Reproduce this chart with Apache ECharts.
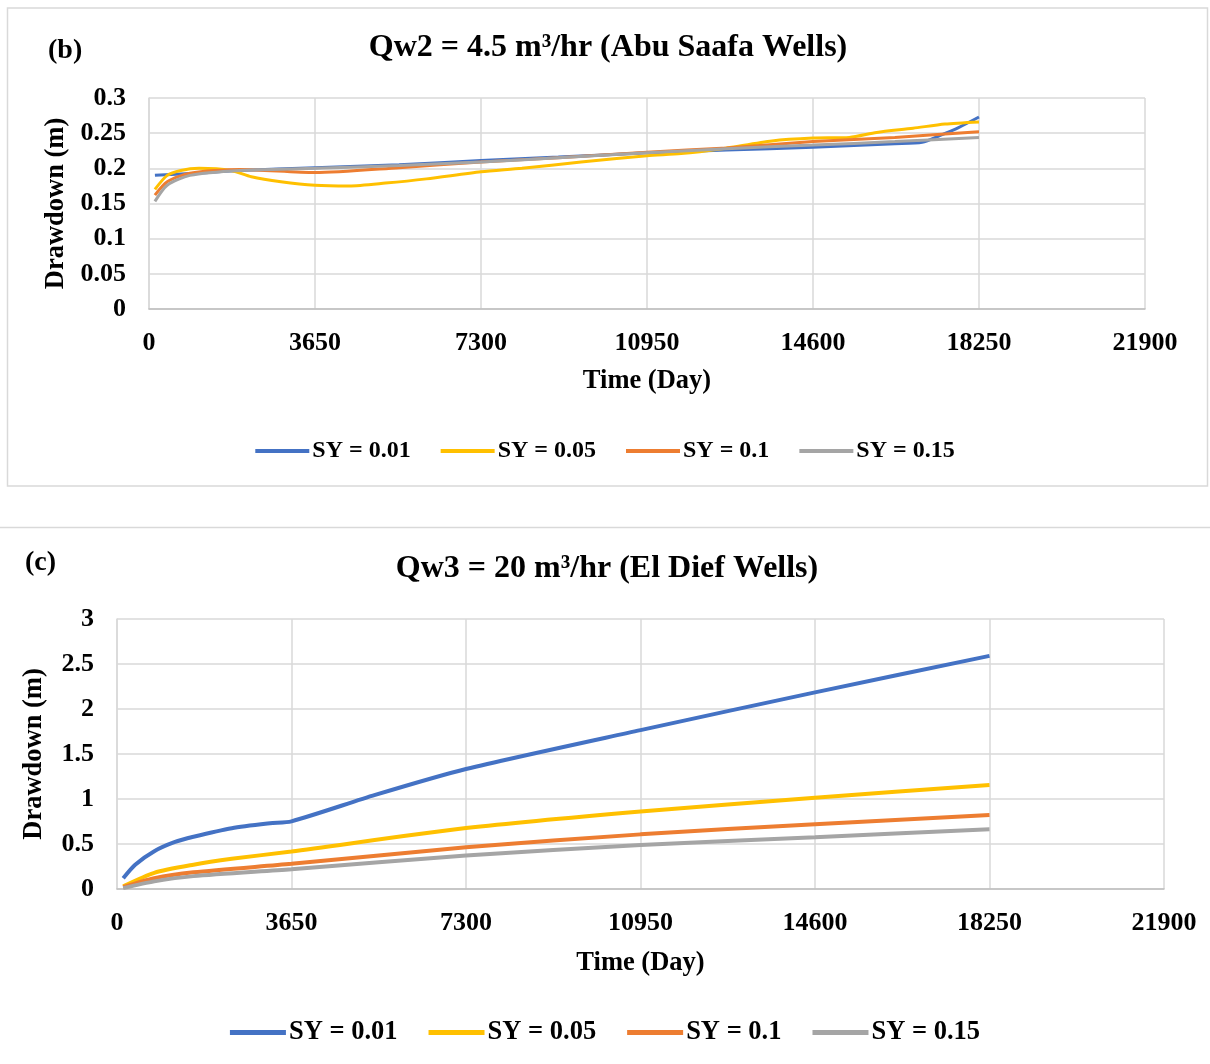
<!DOCTYPE html>
<html>
<head>
<meta charset="utf-8">
<script src="https://cdn.jsdelivr.net/npm/echarts@6/dist/echarts.min.js"></script>
<style>
html,body{margin:0;padding:0;background:#fff;}
#chart{width:1210px;height:1064px;}
</style>
</head>
<body>
<div id="chart"></div>
<script>
// ---- Data ----
const seriesNames = ['SY = 0.01', 'SY = 0.05', 'SY = 0.1', 'SY = 0.15'];
const xTicks = [0, 3650, 7300, 10950, 14600, 18250, 21900];

// Chart (b): Qw2 = 4.5 m3/hr (Abu Saafa Wells)
const bDaysSY001 = [130, 1000, 2000, 3650, 5500, 7300, 9000, 10950, 12700, 14600, 16400, 17000, 17400, 17800, 18250];
const bSY001     = [0.190, 0.193, 0.197, 0.201, 0.205, 0.211, 0.216, 0.222, 0.226, 0.230, 0.235, 0.237, 0.247, 0.258, 0.273];
const bDaysSY005 = [130, 400, 700, 1100, 1800, 2250, 2900, 3650, 4400, 5200, 6100, 7300, 8200, 9500, 10950, 11700, 12600, 13700, 14600, 15400, 16000, 16800, 17500, 18250];
const bSY005     = [0.170, 0.190, 0.197, 0.200, 0.197, 0.188, 0.181, 0.176, 0.175, 0.179, 0.185, 0.195, 0.200, 0.209, 0.218, 0.221, 0.228, 0.239, 0.243, 0.244, 0.251, 0.257, 0.263, 0.266];
const bDaysSY01  = [130, 400, 900, 2000, 3650, 5500, 7300, 9000, 10950, 12700, 14600, 16400, 18250];
const bSY01      = [0.162, 0.181, 0.193, 0.1985, 0.194, 0.201, 0.209, 0.215, 0.223, 0.229, 0.238, 0.244, 0.252];
const bDaysSY015 = [130, 400, 900, 2000, 3650, 5500, 7300, 9000, 10950, 12700, 14600, 16400, 18250];
const bSY015     = [0.153, 0.176, 0.190, 0.197, 0.200, 0.204, 0.209, 0.215, 0.222, 0.228, 0.233, 0.238, 0.244];

// Chart (c): Qw3 = 20 m3/hr (El Dief Wells)
const cDaysSY001 = [130, 380, 780, 1200, 1600, 2400, 3200, 3650, 5400, 7300, 10950, 14600, 18250];
const cSY001     = [0.12, 0.27, 0.42, 0.52, 0.58, 0.675, 0.73, 0.752, 1.045, 1.333, 1.765, 2.185, 2.59];
const cDaysSY005 = [130, 780, 1600, 2400, 3650, 7300, 10950, 14600, 18250];
const cSY005     = [0.03, 0.18, 0.27, 0.335, 0.417, 0.677, 0.862, 1.014, 1.155];
const cDaysSY01  = [130, 780, 1600, 3650, 7300, 10950, 14600, 18250];
const cSY01      = [0.02, 0.12, 0.185, 0.28, 0.463, 0.607, 0.72, 0.823];
const cDaysSY015 = [130, 780, 1600, 3650, 7300, 10950, 14600, 18250];
const cSY015     = [0.01, 0.085, 0.143, 0.22, 0.372, 0.49, 0.575, 0.664];

const colors = ['#4472C4', '#FFC000', '#ED7D31', '#A5A5A5'];
const FONT = "'Liberation Serif', 'Times New Roman', serif";

function pairs(xs, ys) { return xs.map((x, i) => [x, ys[i]]); }

const bData = [pairs(bDaysSY001, bSY001), pairs(bDaysSY005, bSY005), pairs(bDaysSY01, bSY01), pairs(bDaysSY015, bSY015)];
const cData = [pairs(cDaysSY001, cSY001), pairs(cDaysSY005, cSY005), pairs(cDaysSY01, cSY01), pairs(cDaysSY015, cSY015)];

const txt = (size) => ({ fontFamily: FONT, fontWeight: 'bold', fontSize: size, color: '#000' });

function xAxisCfg(gridIndex, nameGap) {
  return {
    type: 'value', gridIndex, min: xTicks[0], max: xTicks[xTicks.length - 1], interval: 3650,
    name: 'Time (Day)', nameLocation: 'middle', nameGap, nameTextStyle: txt(26.5),
    axisLine: { show: true, lineStyle: { color: '#bfbfbf', width: 1.5 } },
    axisTick: { show: false },
    axisLabel: Object.assign(txt(26), { margin: 21, formatter: (v) => String(v) }),
    splitLine: { show: true, lineStyle: { color: '#d9d9d9', width: 1.5 } }
  };
}
function yAxisCfg(gridIndex, max, interval, nameGap) {
  return {
    type: 'value', gridIndex, min: 0, max, interval,
    name: 'Drawdown (m)', nameLocation: 'middle', nameGap, nameTextStyle: txt(26.5),
    axisLine: { show: true, lineStyle: { color: '#d9d9d9', width: 1.5 } },
    axisTick: { show: false },
    axisLabel: Object.assign(txt(26), { margin: 23 }),
    splitLine: { show: true, lineStyle: { color: '#d9d9d9', width: 1.5 } }
  };
}

const series = [];
bData.forEach((d, i) => series.push({
  name: seriesNames[i], type: 'line', xAxisIndex: 0, yAxisIndex: 0, data: d,
  smooth: 0.25, showSymbol: false, symbol: 'none',
  lineStyle: { color: colors[i], width: 3 }, itemStyle: { color: colors[i] }
}));
cData.forEach((d, i) => series.push({
  name: seriesNames[i], type: 'line', xAxisIndex: 1, yAxisIndex: 1, data: d,
  smooth: 0.25, showSymbol: false, symbol: 'none',
  lineStyle: { color: colors[i], width: 4 }, itemStyle: { color: colors[i] }
}));

const chart = echarts.init(document.getElementById('chart'), null, { renderer: 'canvas' });
chart.setOption({
  animation: false,
  backgroundColor: '#fff',
  color: colors,
  title: [
    { text: 'Qw2 = 4.5 m³/hr (Abu Saafa Wells)', left: 608, top: 32, textAlign: 'center', padding: 0, textStyle: txt(32) },
    { text: '(b)', left: 48, top: 37, padding: 0, textStyle: txt(28) },
    { text: 'Qw3 = 20 m³/hr (El Dief Wells)', left: 607, top: 553, textAlign: 'center', padding: 0, textStyle: txt(32) },
    { text: '(c)', left: 25, top: 549, padding: 0, textStyle: txt(28) }
  ],
  legend: [
    { data: seriesNames, left: 'center', top: 434, icon: 'rect', itemWidth: 54, itemHeight: 4, itemGap: 30, textStyle: Object.assign(txt(24), { padding: [0, 0, 0, -2] }) },
    { data: seriesNames, left: 'center', top: 1014, icon: 'rect', itemWidth: 56, itemHeight: 5, itemGap: 31, textStyle: Object.assign(txt(26.5), { padding: [0, 0, 0, -2] }) }
  ],
  grid: [
    { left: 149, right: 65, top: 98, height: 211 },
    { left: 117, right: 46, top: 619, height: 270 }
  ],
  xAxis: [xAxisCfg(0, 59), xAxisCfg(1, 61)],
  yAxis: [yAxisCfg(0, 0.3, 0.05, 79), yAxisCfg(1, 3, 0.5, 69)],
  graphic: [
    { type: 'rect', shape: { x: 7.5, y: 8, width: 1200, height: 478 }, style: { fill: 'none', stroke: '#d9d9d9', lineWidth: 1.5 }, silent: true, z: -1 },
    { type: 'line', shape: { x1: 0, y1: 527.5, x2: 1210, y2: 527.5 }, style: { stroke: '#d9d9d9', lineWidth: 1.5 }, silent: true, z: -1 }
  ],
  series
});
</script>
</body>
</html>
